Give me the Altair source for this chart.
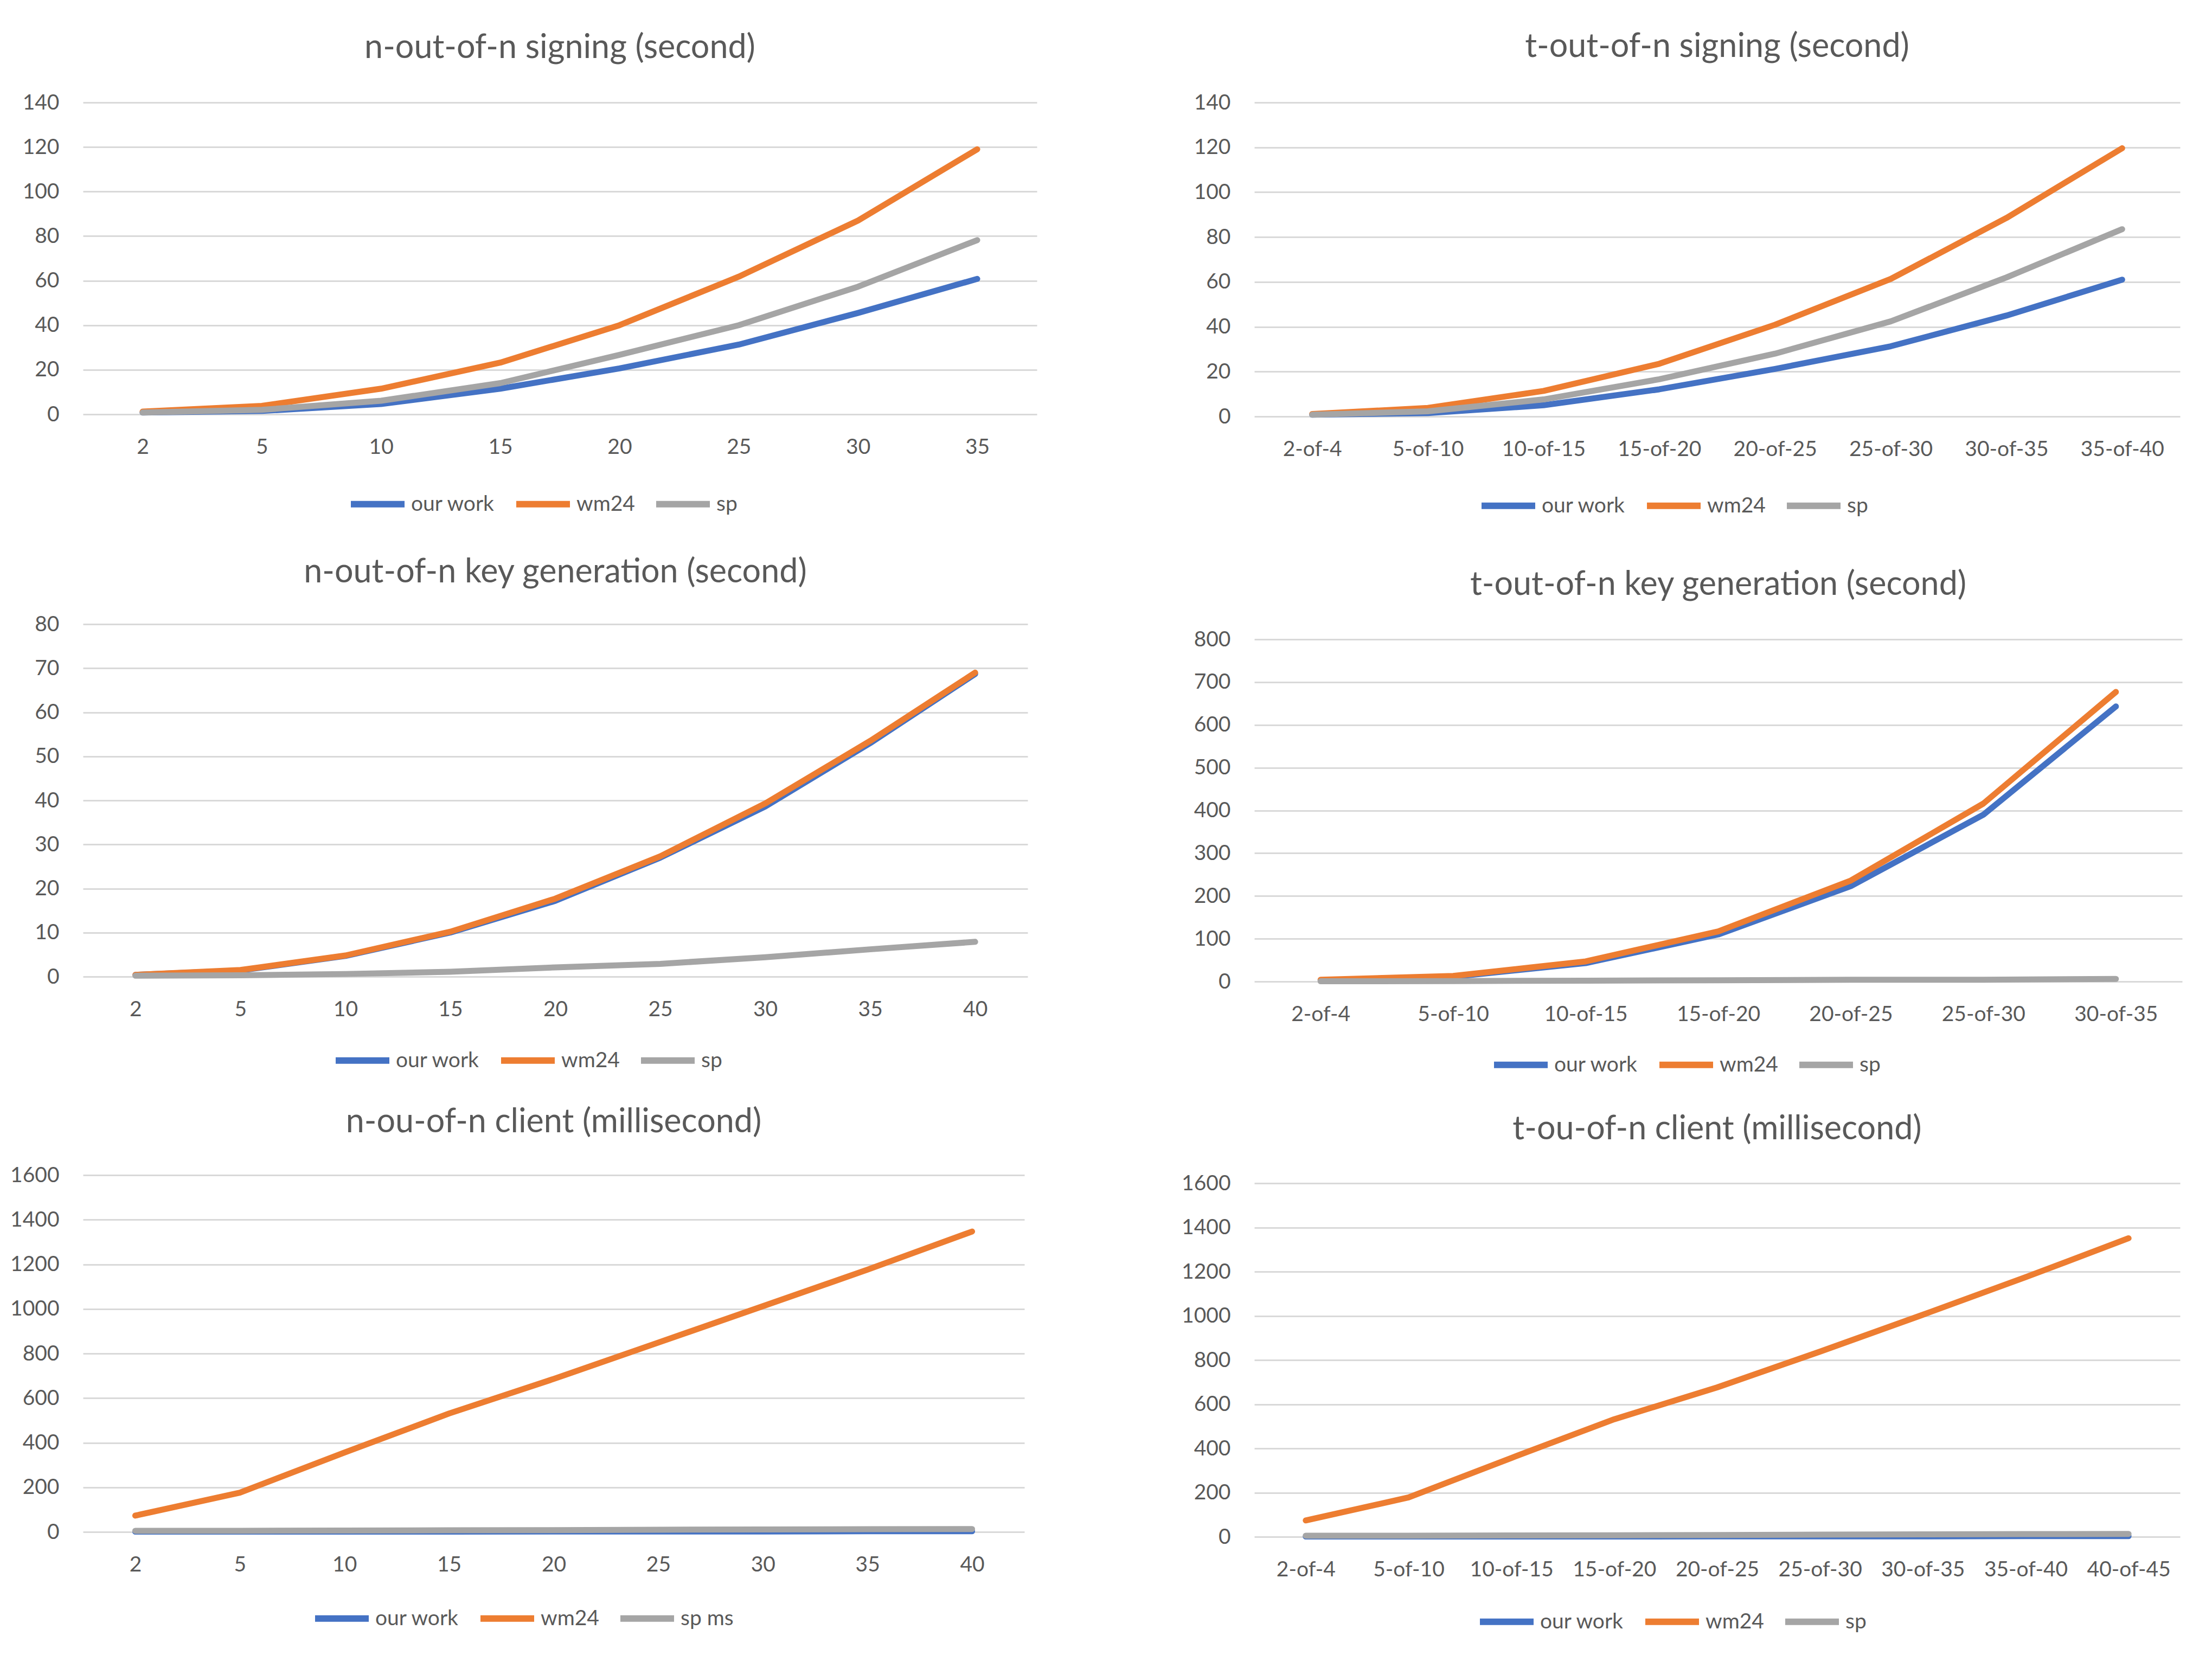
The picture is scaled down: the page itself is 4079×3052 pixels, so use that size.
import altair as alt
import pandas as pd

# series names, colours
series_names = ["our work", "wm24", "sp"]
series_colors = ["#4472C4", "#ED7D31", "#A5A5A5"]

# n-out-of-n signing (second)
n_sign_x = ["2", "5", "10", "15", "20", "25", "30", "35"]
n_sign_ours = [0.8, 1.5, 4.6, 11.5, 20.6, 31.3, 45.5, 60.8]
n_sign_wm24 = [1.2, 3.8, 11.5, 23.2, 40, 61.8, 87, 119]
n_sign_sp = [0.8, 2, 6.1, 14, 26.7, 40, 57.3, 78.2]

# t-out-of-n signing (second)
t_sign_x = ["2-of-4", "5-of-10", "10-of-15", "15-of-20", "20-of-25", "25-of-30", "30-of-35", "35-of-40"]
t_sign_ours = [0.8, 1.5, 5, 12.1, 21.2, 31.3, 45, 61]
t_sign_wm24 = [1.1, 3.8, 11.4, 23.5, 40.9, 61.3, 88.5, 119.6]
t_sign_sp = [0.8, 2.3, 7.6, 16.6, 28, 42.4, 62, 83.5]

# n-out-of-n key generation (second)
n_keygen_x = ["2", "5", "10", "15", "20", "25", "30", "35", "40"]
n_keygen_ours = [0.4, 1.4, 4.7, 10, 17.2, 27, 38.6, 53, 68.7]
n_keygen_wm24 = [0.4, 1.5, 4.8, 10.2, 17.7, 27.3, 39.3, 53.5, 69]
n_keygen_sp = [0.2, 0.3, 0.6, 1.1, 2.1, 2.9, 4.4, 6.2, 7.9]

# t-out-of-n key generation (second)
t_keygen_x = ["2-of-4", "5-of-10", "10-of-15", "15-of-20", "20-of-25", "25-of-30", "30-of-35"]
t_keygen_ours = [3, 11, 43, 110, 223, 390, 643]
t_keygen_wm24 = [4, 13, 47, 117, 236, 416, 677]
t_keygen_sp = [0.5, 1, 2, 3, 4, 4, 6]

# n-ou-of-n client (millisecond)
n_client_x = ["2", "5", "10", "15", "20", "25", "30", "35", "40"]
n_client_ours = [1, 1, 1, 1, 2, 2, 2, 3, 3]
n_client_wm24 = [73, 176, 356, 531, 686, 849, 1012, 1176, 1347]
n_client_sp = [5, 5, 6, 7, 8, 10, 11, 12, 13]

# t-ou-of-n client (millisecond)
t_client_x = ["2-of-4", "5-of-10", "10-of-15", "15-of-20", "20-of-25", "25-of-30", "30-of-35", "35-of-40", "40-of-45"]
t_client_ours = [1, 1, 1, 1, 2, 2, 2, 3, 3]
t_client_wm24 = [74, 178, 357, 532, 676, 838, 1005, 1175, 1351]
t_client_sp = [5, 5, 6, 7, 8, 10, 11, 12, 13]

FONT = "Lato"
TEXT = "#595959"
GRID = "#D9D9D9"


def panel(title, cats, ours, wm24, sp, ymax, ystep, w, h, title_offset, legend_x, legend_y,
          names=series_names):
    rows = []
    for name, vals in zip(names, [ours, wm24, sp]):
        for c, v in zip(cats, vals):
            rows.append({"cat": c, "series": name, "value": v})
    df = pd.DataFrame(rows)

    return alt.Chart(df, title=alt.TitleParams(
        title, font=FONT, fontSize=61, fontWeight="normal", color=TEXT, offset=title_offset
    )).mark_line(strokeWidth=11, strokeCap="round", strokeJoin="round").encode(
        x=alt.X("cat:N", sort=cats, title=None,
                scale=alt.Scale(type="point", padding=0.5),
                axis=alt.Axis(labelAngle=0, labelFont=FONT, labelFontSize=39, labelColor=TEXT,
                              labelBaseline="middle", labelPadding=60, ticks=False, tickSize=0,
                              domain=False, grid=False)),
        y=alt.Y("value:Q", title=None,
                scale=alt.Scale(domain=[0, ymax], nice=False),
                axis=alt.Axis(values=list(range(0, ymax + 1, ystep)), format="d", labelFont=FONT,
                              labelFontSize=39, labelColor=TEXT, labelPadding=44, ticks=False,
                              tickSize=0, domain=False, gridColor=GRID, gridWidth=3)),
        color=alt.Color("series:N", sort=names,
                        scale=alt.Scale(domain=names, range=series_colors),
                        legend=alt.Legend(title=None, orient="none", legendX=legend_x, legendY=legend_y,
                                          direction="horizontal", columns=3, symbolType="stroke",
                                          symbolSize=9801, symbolStrokeWidth=12, labelFont=FONT,
                                          labelFontSize=39, labelColor=TEXT, labelOffset=6,
                                          columnPadding=15)),
    ).properties(width=w, height=h)


tl = panel("n-out-of-n signing (second)", n_sign_x, n_sign_ours, n_sign_wm24, n_sign_sp,
           140, 20, 1759, 575, 50, 488, 685)
tr = panel("t-out-of-n signing (second)", t_sign_x, t_sign_ours, t_sign_wm24, t_sign_sp,
           140, 20, 1707, 579, 52, 413, 688)
ml = panel("n-out-of-n key generation (second)", n_keygen_x, n_keygen_ours, n_keygen_wm24, n_keygen_sp,
           80, 10, 1742, 650, 45, 460, 749)
mr = panel("t-out-of-n key generation (second)", t_keygen_x, t_keygen_ours, t_keygen_wm24, t_keygen_sp,
           800, 100, 1711, 631, 50, 436, 729)
bl = panel("n-ou-of-n client (millisecond)", n_client_x, n_client_ours, n_client_wm24, n_client_sp,
           1600, 200, 1736, 658, 47, 422, 762, names=["our work", "wm24", "sp ms"])
br = panel("t-ou-of-n client (millisecond)", t_client_x, t_client_ours, t_client_wm24, t_client_sp,
           1600, 200, 1707, 652, 49, 410, 753)


def column(top, mid, bottom, gap1, gap2):
    lower = alt.concat(mid, bottom, columns=1, spacing=gap2, align="none")
    lower = lower.resolve_scale(color="independent").resolve_legend(color="independent")
    col = alt.concat(top, lower, columns=1, spacing=gap1, align="none")
    return col.resolve_scale(color="independent").resolve_legend(color="independent")


left = column(tl, ml, bl, 71, 59)
right = column(tr, mr, br, 91, 64)

chart = alt.concat(left, right, columns=2, spacing=266, align="none").resolve_scale(
    color="independent"
).resolve_legend(
    color="independent"
).properties(
    padding={"left": 10, "top": 48, "right": 10, "bottom": 5}
).configure_view(
    strokeWidth=0
)

chart.save("out.html", embed_options={"renderer": "svg", "actions": False})
